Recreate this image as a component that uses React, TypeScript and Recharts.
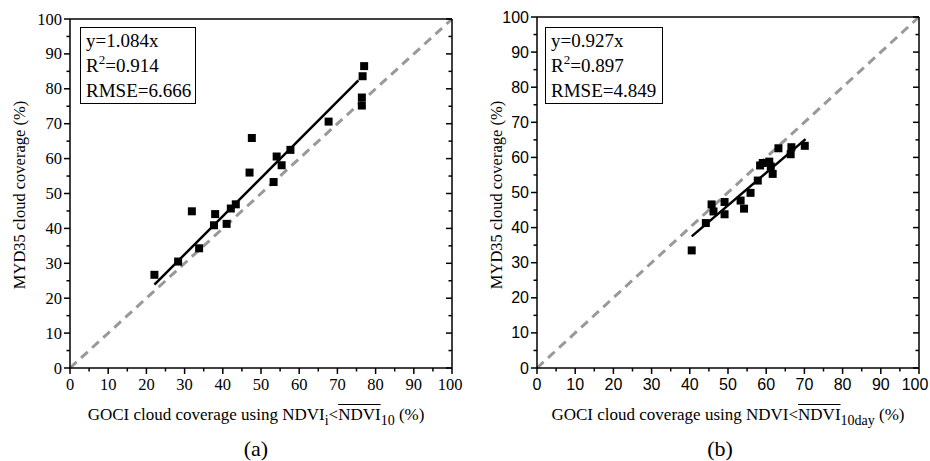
import { ReferenceLine, Scatter, ScatterChart, XAxis, YAxis } from "recharts";

// panel (a): GOCI NDVI_i < mean NDVI_10 vs MYD35
const gociA = [22.1, 28.3, 31.9, 33.8, 37.7, 38.0, 41.0, 42.1, 43.4, 47.0, 47.6, 53.3, 54.1, 55.4, 57.7, 67.7, 76.4, 76.4, 76.6, 77.0];
const mydA = [26.7, 30.5, 44.9, 34.3, 40.9, 44.1, 41.3, 45.7, 46.9, 56.0, 65.9, 53.3, 60.6, 58.1, 62.5, 70.6, 77.5, 75.2, 83.6, 86.5];
const fitA = [
  { x: 22.1, y: 23.9 },
  { x: 75.5, y: 82.4 },
];

// panel (b): GOCI NDVI < mean NDVI_10day vs MYD35
const gociB = [40.5, 44.2, 45.7, 46.2, 49.1, 49.1, 53.3, 54.2, 55.9, 57.8, 58.4, 59.1, 60.8, 61.2, 61.7, 63.2, 66.4, 66.6, 70.1];
const mydB = [33.5, 41.3, 46.6, 44.6, 47.3, 43.8, 47.7, 45.4, 49.9, 53.4, 57.7, 58.4, 58.8, 57.4, 55.3, 62.6, 60.9, 62.9, 63.3];
const fitB = [
  { x: 40.5, y: 37.5 },
  { x: 70.3, y: 65.2 },
];

const oneToOne = [
  { x: 0, y: 0 },
  { x: 100, y: 100 },
];

const axisTicks = [0, 5, 10, 15, 20, 25, 30, 35, 40, 45, 50, 55, 60, 65, 70, 75, 80, 85, 90, 95, 100];

const statsA = ["y=1.084x", "0.914", "RMSE=6.666"];
const statsB = ["y=0.927x", "0.897", "RMSE=4.849"];

const SERIF = "'Liberation Serif', 'Times New Roman', serif";
const SANS = "'Liberation Sans', Arial, sans-serif";

const toPoints = (xs: number[], ys: number[]) => xs.map((x, i) => ({ x, y: ys[i] }));

const isMajor = (v: number) => v % 10 === 0;

function makeTick(side: "bottom" | "left" | "top" | "right", font: string, size: number, maxX = 9999) {
  return (props: any) => {
    const { x, y, payload } = props;
    const v = payload.value as number;
    const len = isMajor(v) ? 6 : 3.5;
    const line = { stroke: "#000", strokeWidth: 1.5 };
    if (side === "bottom") {
      return (
        <g>
          <line x1={x} y1={y} x2={x} y2={y + len} {...line} />
          {isMajor(v) && (
            <text x={Math.min(x, maxX)} y={y + 22} textAnchor="middle" fontFamily={font} fontSize={size} fill="#000">
              {v}
            </text>
          )}
        </g>
      );
    }
    if (side === "left") {
      return (
        <g>
          <line x1={x - len} y1={y} x2={x} y2={y} {...line} />
          {isMajor(v) && (
            <text x={x - 8} y={y + 5.5} textAnchor="end" fontFamily={font} fontSize={size} fill="#000">
              {v}
            </text>
          )}
        </g>
      );
    }
    if (side === "top") {
      return <line x1={x} y1={y} x2={x} y2={y + len} {...line} />;
    }
    return <line x1={x - len} y1={y} x2={x} y2={y} {...line} />;
  };
}

type PanelProps = {
  left: number;
  top: number;
  marginLeft: number;
  marginRight: number;
  tickFont: string;
  tickSize: number;
  points: { x: number; y: number }[];
  fit: { x: number; y: number }[];
};

function Panel({ left, top, marginLeft, marginRight, tickFont, tickSize, points, fit }: PanelProps) {
  const axisLine = { stroke: "#000", strokeWidth: 1.5 };
  const common = {
    type: "number" as const,
    domain: [0, 100],
    ticks: axisTicks,
    interval: 0,
    tickSize: 0,
    tickMargin: 0,
    tickLine: false,
    axisLine,
    allowDataOverflow: true,
  };
  return (
    <div style={{ position: "absolute", left, top: 0 }}>
      <ScatterChart
        width={465}
        height={461}
        margin={{ top: top - 1, right: marginRight - 1, bottom: 92, left: marginLeft - 1 }}
      >
        <XAxis {...common} dataKey="x" height={1} tick={makeTick("bottom", tickFont, tickSize, 465 - 15)} />
        <XAxis {...common} xAxisId="top" orientation="top" height={1} tick={makeTick("top", tickFont, tickSize)} />
        <YAxis {...common} dataKey="y" width={1} tick={makeTick("left", tickFont, tickSize)} />
        <YAxis {...common} yAxisId="right" orientation="right" width={1} tick={makeTick("right", tickFont, tickSize)} />
        <ReferenceLine
          segment={oneToOne}
          stroke="#999"
          strokeWidth={3}
          strokeDasharray="9 6"
          ifOverflow="visible"
        />
        <ReferenceLine segment={fit} stroke="#000" strokeWidth={2.5} ifOverflow="visible" />
        <Scatter data={points} shape="square" fill="#000" isAnimationActive={false} />
      </ScatterChart>
    </div>
  );
}

function StatsBox({ left, width, stats }: { left: number; width: number; stats: string[] }) {
  return (
    <div
      style={{
        position: "absolute",
        left,
        top: 27,
        width,
        height: 77,
        boxSizing: "border-box",
        border: "1.5px solid #000",
        background: "#fff",
        padding: "0 0 0 5px",
        fontFamily: SERIF,
        fontSize: 19,
        lineHeight: "25px",
        color: "#000",
        whiteSpace: "nowrap",
      }}
    >
      <div>{stats[0]}</div>
      <div>
        R<sup style={{ fontSize: 13, verticalAlign: "8px", lineHeight: 0 }}>2</sup>={stats[1]}
      </div>
      <div>{stats[2]}</div>
    </div>
  );
}

function YTitle({ cx }: { cx: number }) {
  return (
    <div
      style={{
        position: "absolute",
        left: cx - 120,
        top: 195 - 11,
        width: 240,
        height: 22,
        lineHeight: "22px",
        textAlign: "center",
        transform: "rotate(-90deg)",
        fontFamily: SERIF,
        fontSize: 16.5,
        color: "#000",
        whiteSpace: "nowrap",
      }}
    >
      MYD35 cloud coverage (%)
    </div>
  );
}

const subStyle = { fontSize: 14, verticalAlign: "-5px", lineHeight: 0 };

const xTitle = {
  position: "absolute" as const,
  width: 400,
  top: 404,
  textAlign: "center" as const,
  fontFamily: SERIF,
  fontSize: 17,
  lineHeight: "22px",
  whiteSpace: "nowrap" as const,
  color: "#000",
};

const panelTag = {
  position: "absolute" as const,
  width: 100,
  top: 438,
  textAlign: "center" as const,
  fontFamily: SERIF,
  fontSize: 22,
  lineHeight: "22px",
  color: "#000",
};

export default function App() {
  return (
    <div
      style={{
        position: "absolute",
        left: 0,
        top: 0,
        width: 930,
        height: 461,
        background: "#fff",
        overflow: "hidden",
      }}
    >
      <Panel
        left={0}
        top={19}
        marginLeft={70}
        marginRight={13}
        tickFont={SERIF}
        tickSize={16.5}
        points={toPoints(gociA, mydA)}
        fit={fitA}
      />
      <Panel
        left={465}
        top={17}
        marginLeft={72}
        marginRight={11}
        tickFont={SANS}
        tickSize={16}
        points={toPoints(gociB, mydB)}
        fit={fitB}
      />
      <StatsBox left={80} width={116} stats={statsA} />
      <StatsBox left={545} width={118} stats={statsB} />
      <YTitle cx={20} />
      <YTitle cx={497} />

      <div style={{ ...xTitle, left: 56 }}>
        GOCI cloud coverage using NDVI<span style={subStyle}>i</span>&lt;
        <span style={{ textDecoration: "overline" }}>NDVI</span>
        <span style={subStyle}>10</span> (%)
      </div>
      <div style={{ ...xTitle, left: 528 }}>
        GOCI cloud coverage using NDVI&lt;
        <span style={{ textDecoration: "overline" }}>NDVI</span>
        <span style={subStyle}>10day</span> (%)
      </div>
      <div style={{ ...panelTag, left: 206 }}>(a)</div>
      <div style={{ ...panelTag, left: 670 }}>(b)</div>
    </div>
  );
}
